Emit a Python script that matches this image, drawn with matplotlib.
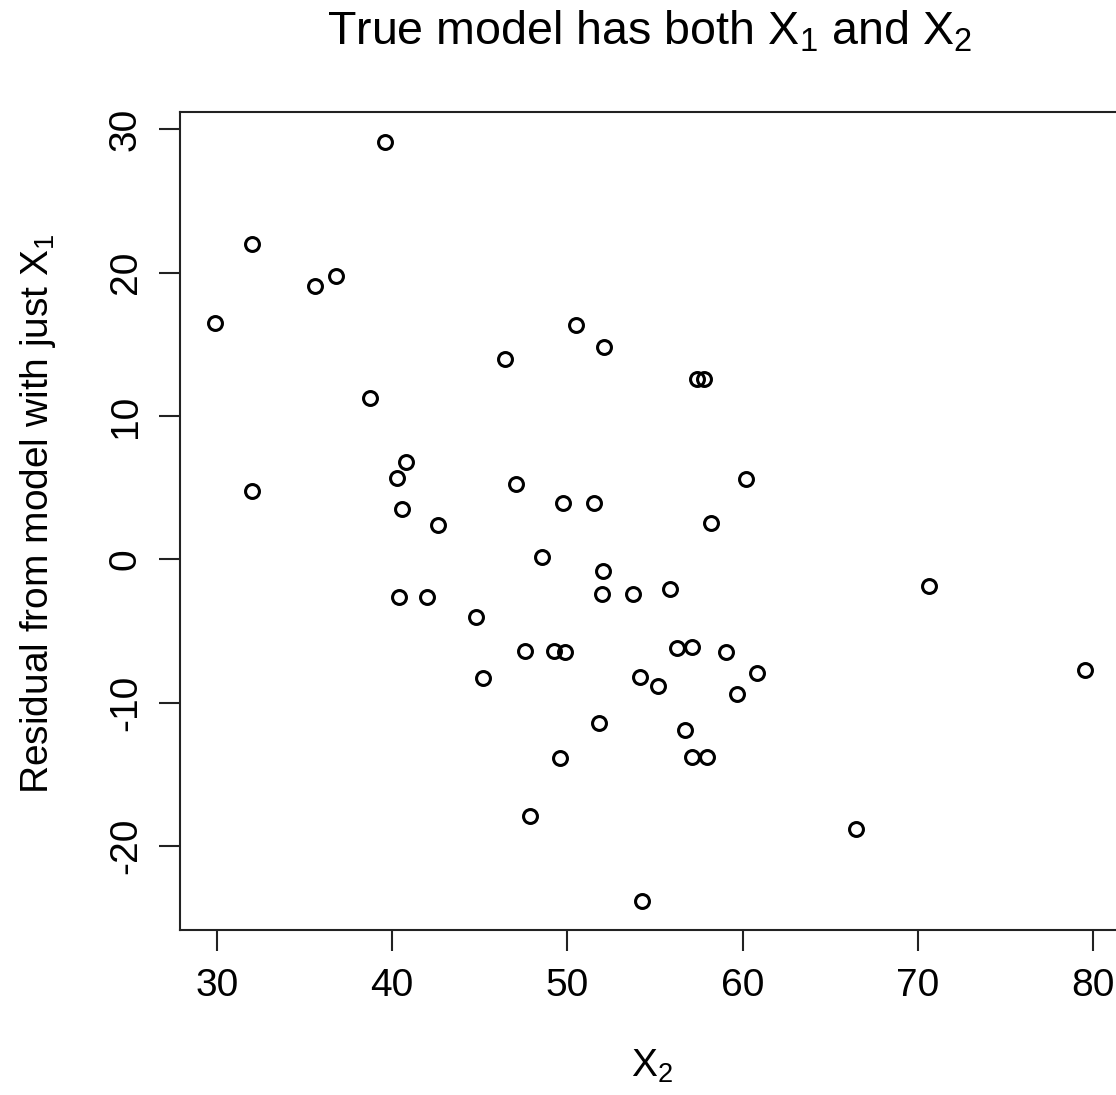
import numpy as np
import matplotlib
matplotlib.use("Agg")
import matplotlib.pyplot as plt

# residuals from the X1-only model against X2
x2 = [29.87, 32.01, 32.01, 35.61, 36.79, 39.59, 38.73, 40.26, 40.77, 40.56,
      42.63, 40.41, 41.97, 44.77, 45.21, 46.46, 47.07, 47.58, 48.57, 47.87,
      49.24, 49.86, 49.73, 49.58, 50.49, 52.11, 51.54, 52.01, 51.96, 51.80,
      53.76, 54.14, 55.19, 54.28, 55.86, 56.27, 57.09, 56.71, 57.11, 57.95,
      57.40, 57.77, 58.18, 59.05, 60.18, 59.66, 60.80, 66.47, 70.64, 79.54]
resid = [16.51, 22.03, 4.76, 19.07, 19.76, 29.14, 11.25, 5.70, 6.82, 3.49,
         2.37, -2.60, -2.60, -4.00, -8.27, 13.95, 5.28, -6.40, 0.16, -17.93,
         -6.40, -6.47, 3.91, -13.83, 16.35, 14.84, 3.91, -0.82, -2.44, -11.42,
         -2.41, -8.21, -8.84, -23.86, -2.06, -6.16, -6.14, -11.88, -13.76, -13.76,
         12.56, 12.56, 2.56, -6.47, 5.58, -9.37, -7.95, -18.84, -1.86, -7.74]

x_ticks = [30, 40, 50, 60, 70, 80]
y_ticks = [-20, -10, 0, 10, 20, 30]

plt.rcParams['font.family'] = ['Liberation Sans', 'DejaVu Sans']
plt.rcParams['mathtext.fontset'] = 'custom'
plt.rcParams['mathtext.rm'] = 'Liberation Sans'
plt.rcParams['mathtext.it'] = 'Liberation Sans:italic'
plt.rcParams['mathtext.default'] = 'rm'
plt.rcParams['axes.unicode_minus'] = False  # R prints plain hyphens

W, H = 1116, 1095
fig = plt.figure(figsize=(W / 100, H / 100), dpi=100)
# axes box in pixels: left 180, right 1120, top 112, bottom 930
ax = fig.add_axes([180 / W, (H - 930) / H, (1120 - 180) / W, (930 - 112) / H])

ax.plot(x2, resid, linestyle='none', marker='o', markersize=10,
        markerfacecolor='none', markeredgecolor='black', markeredgewidth=2.2)

ax.set_xlim(27.89, 81.54)
ax.set_ylim(-25.86, 31.21)
ax.set_xticks(x_ticks)
ax.set_yticks(y_ticks)

for s in ax.spines.values():
    s.set_linewidth(1.5)
    s.set_color('#222222')

ax.tick_params(axis='both', direction='out', length=15, width=1.5,
               color='#222222', labelsize=28)
ax.tick_params(axis='x', pad=12)
ax.tick_params(axis='y', pad=11, labelrotation=90)
for lab in ax.get_yticklabels():
    lab.set_verticalalignment('center')

fig.text(650 / W, 1 - 45 / H, r'True model has both X$_1$ and X$_2$',
         ha='center', va='baseline', fontsize=33.6)
fig.text(652 / W, 1 - 1077 / H, r'X$_2$', ha='center', va='baseline', fontsize=28)
fig.text(48 / W, 1 - 514 / H, r'Residual from model with just X$_1$',
         rotation=90, rotation_mode='anchor', ha='center', va='baseline',
         fontsize=28)

fig.savefig("out.png", dpi=100)
